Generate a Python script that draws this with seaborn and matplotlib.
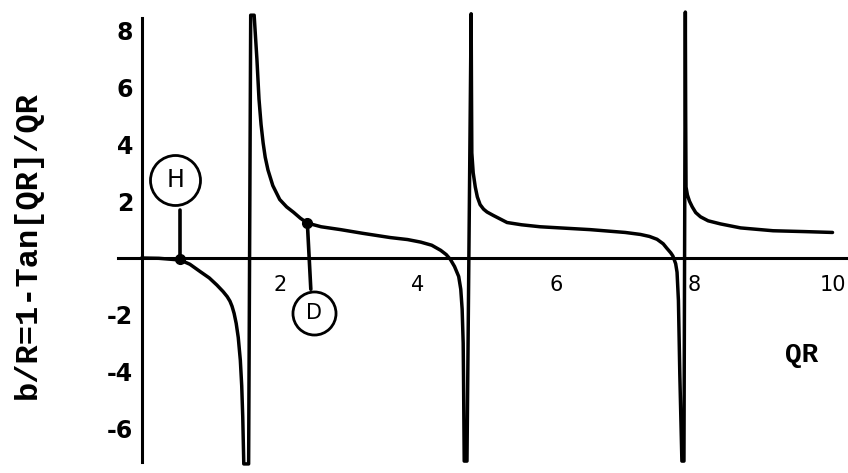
import matplotlib
matplotlib.use("Agg")
import matplotlib.pyplot as plt
import seaborn as sns
import pandas as pd

# ---- data ----
qr = [0.00, 0.25, 0.56, 0.70, 0.85, 0.98, 1.09, 1.18, 1.24, 1.28, 1.31, 1.34, 1.37, 1.40, 1.43, 1.45, 1.465, 1.48,
      1.55, 1.58, 1.63, 1.67, 1.70, 1.73, 1.76, 1.79, 1.83, 1.90, 2.00, 2.10, 2.20, 2.30, 2.40,
      2.60, 2.88, 3.20, 3.60, 3.85, 4.04, 4.20, 4.33, 4.41, 4.47, 4.53, 4.59, 4.62, 4.64,
      4.655, 4.66, 4.67,
      4.71, 4.77, 4.775, 4.78, 4.80, 4.83, 4.86, 4.90, 4.95, 5.00, 5.09, 5.29, 5.50, 5.77, 6.49, 7.00,
      7.22, 7.35, 7.46, 7.55, 7.60, 7.66, 7.69, 7.73, 7.75, 7.77, 7.79, 7.82,
      7.85, 7.87, 7.875, 7.88, 7.90, 7.93, 7.97, 8.02, 8.09, 8.20, 8.38, 8.67, 9.14, 9.60, 10.00]
b_over_r = [0.00, -0.01, -0.07, -0.22, -0.48, -0.70, -0.95, -1.18, -1.36, -1.52, -1.70, -1.95, -2.30, -2.80, -3.60, -4.50, -5.60, -7.25,
            -7.25, 8.55, 8.55, 7.00, 5.60, 4.70, 4.05, 3.55, 3.10, 2.55, 2.06, 1.80, 1.61, 1.40, 1.23,
            1.10, 1.00, 0.87, 0.72, 0.65, 0.56, 0.45, 0.27, 0.12, -0.05, -0.30, -0.65, -1.10, -1.80,
            -3.00, -4.20, -7.15,
            -7.15, 8.60, 6.00, 3.70, 3.00, 2.50, 2.15, 1.88, 1.72, 1.62, 1.50, 1.25, 1.17, 1.10, 1.00, 0.90,
            0.83, 0.76, 0.66, 0.50, 0.35, 0.18, 0.07, -0.20, -0.50, -1.50, -4.10, -7.15,
            -7.15, 8.66, 5.00, 2.50, 2.22, 2.00, 1.80, 1.60, 1.45, 1.31, 1.20, 1.06, 0.96, 0.93, 0.90]

x_ticks = [2, 4, 6, 8, 10]
y_ticks = [-6, -4, -2, 2, 4, 6, 8]

# marked points and their circled labels
mark_labels = ["H", "D"]
mark_x = [0.56, 2.40]
mark_y = [-0.05, 1.23]
stem_end_x = [0.56, 2.45]
stem_end_y = [1.69, -1.10]
circle_x = [0.49, 2.50]
circle_y = [2.75, -1.95]

y_label = "b/R=1-Tan[QR]/QR"
x_label = "QR"

# ---- drawing ----
sns.set_theme(style="white")
plt.rcParams['font.family'] = ['DejaVu Sans']
plt.rcParams['text.color'] = 'black'

fig = plt.figure(figsize=(8.48, 4.73), dpi=100)
ax = fig.add_axes([0, 0, 1, 1])

df = pd.DataFrame({"QR": qr, "b": b_over_r})
sns.lineplot(data=df, x="QR", y="b", sort=False, estimator=None,
             color="black", linewidth=2.5, ax=ax)
for ln in ax.get_lines():
    ln.set_solid_joinstyle("round")
    ln.set_solid_capstyle("round")

# stems, dots, circles
for lab, mx, my, sx, sy, cx, cy in zip(mark_labels, mark_x, mark_y,
                                        stem_end_x, stem_end_y, circle_x, circle_y):
    ax.plot([mx, sx], [my, sy], color="black", lw=2.6, solid_capstyle="round")
    ax.plot([mx], [my], "o", color="black", ms=7)
    size = 36 if lab == "H" else 31
    ax.plot([cx], [cy], "o", ms=size, mfc="none", mec="black", mew=2.0)
    ax.text(cx, cy, lab, ha="center", va="center",
            fontsize=17 if lab == "H" else 15, color="black")

ax.set_xlim(-2.048, 10.224)
ax.set_ylim(-7.57, 9.085)

for s in ["top", "right"]:
    ax.spines[s].set_visible(False)
ax.spines["left"].set_position(("data", 0))
ax.spines["bottom"].set_position(("data", 0))
ax.spines["left"].set_bounds(-7.2, 8.45)
ax.spines["bottom"].set_bounds(-0.34, 10.3)
for s in ["left", "bottom"]:
    ax.spines[s].set_color("black")
    ax.spines[s].set_linewidth(2.2)

ax.set_xticks(x_ticks)
ax.set_yticks(y_ticks)
ax.set_xticklabels([str(t) for t in x_ticks], fontsize=15)
ax.set_yticklabels([str(t) for t in y_ticks], fontsize=17, fontweight="bold")
ax.tick_params(axis="both", direction="inout", length=6, width=1.5,
               color="black", labelcolor="black")
ax.tick_params(axis="x", pad=9)
ax.tick_params(axis="y", pad=3)
ax.set_xlabel("")
ax.set_ylabel("")

fig.text(28 / 848, 1 - 245 / 473, y_label, rotation=90, ha="center", va="center",
         fontsize=23, fontweight="bold", color="black",
         family=["Liberation Mono", "DejaVu Sans Mono"])
fig.text(802 / 848, 1 - 355 / 473, x_label, ha="center", va="center",
         fontsize=20, fontweight="bold", color="black",
         family=["Liberation Mono", "DejaVu Sans Mono"])

fig.savefig("out.png", dpi=100, facecolor="white")
